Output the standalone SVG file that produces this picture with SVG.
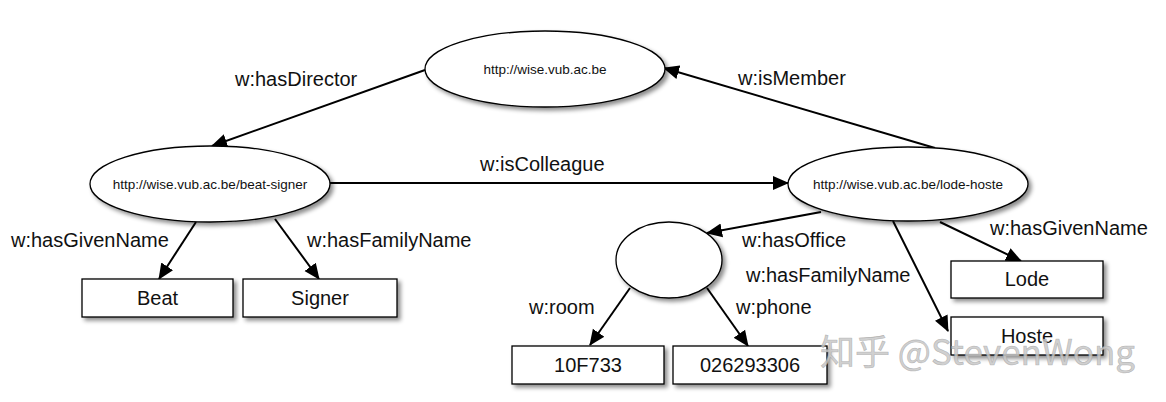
<svg xmlns="http://www.w3.org/2000/svg" width="1166" height="402" viewBox="0 0 1166 402">
<defs>
<filter id="sh" x="-10%" y="-20%" width="130%" height="150%">
<feDropShadow dx="3" dy="3" stdDeviation="2" flood-color="#000" flood-opacity="0.45"/>
</filter>
<marker id="ar" viewBox="0 0 16 16" refX="15" refY="8" markerWidth="16" markerHeight="16" markerUnits="userSpaceOnUse" orient="auto">
<path d="M0,1 L16,8 L0,15 Z" fill="#000"/>
</marker>
<style>
.n{fill:#fff;stroke:#000;stroke-width:1.3;filter:url(#sh)}
.t{font-family:"Liberation Sans",Arial,sans-serif;fill:#111}
.s{font-size:13.5px}
.b{font-size:20px}
.l{font-family:"Liberation Sans",Arial,sans-serif;font-size:20px;fill:#111}
.e{stroke:#000;stroke-width:2;fill:none;marker-end:url(#ar)}
</style>
</defs>
<rect width="1166" height="402" fill="#fff"/>
<g id="connectors">
<line class="e" x1="425" y1="70" x2="212" y2="146"/>
<line class="e" x1="935" y1="148" x2="664" y2="68"/>
<line class="e" x1="330" y1="183" x2="788" y2="183"/>
<line class="e" x1="196" y1="222" x2="159" y2="279"/>
<line class="e" x1="275" y1="219" x2="319" y2="279"/>
<line class="e" x1="821" y1="212" x2="707" y2="233"/>
<line class="e" x1="893" y1="221" x2="948" y2="331"/>
<line class="e" x1="940" y1="222" x2="1021" y2="261"/>
<line class="e" x1="630" y1="288" x2="590" y2="345"/>
<line class="e" x1="707" y1="288" x2="748" y2="346"/>
</g>
<g id="labels">
<text class="l" x="235" y="86">w:hasDirector</text>
<text class="l" x="738" y="85">w:isMember</text>
<text class="l" x="480" y="171">w:isColleague</text>
<text class="l" x="11" y="247">w:hasGivenName</text>
<text class="l" x="307" y="247">w:hasFamilyName</text>
<text class="l" x="742" y="247">w:hasOffice</text>
<text class="l" x="746" y="282">w:hasFamilyName</text>
<text class="l" x="990" y="235">w:hasGivenName</text>
<text class="l" x="529" y="314">w:room</text>
<text class="l" x="736" y="314">w:phone</text>
</g>
<g id="wise">
<ellipse class="n" cx="545" cy="69" rx="120" ry="38"/>
<text class="t s" x="545" y="74" text-anchor="middle">http://wise.vub.ac.be</text>
</g>
<g id="beat-signer">
<ellipse class="n" cx="210" cy="184" rx="120" ry="38"/>
<text class="t s" x="210" y="189" text-anchor="middle">http://wise.vub.ac.be/beat-signer</text>
</g>
<g id="lode-hoste">
<ellipse class="n" cx="908" cy="184" rx="120" ry="37"/>
<text class="t s" x="908" y="189" text-anchor="middle">http://wise.vub.ac.be/lode-hoste</text>
</g>
<g id="office">
<ellipse class="n" cx="669" cy="260" rx="53" ry="38"/>
</g>
<g id="beat">
<rect class="n" x="82" y="279" width="151" height="38"/>
<text class="t b" x="157.5" y="305" text-anchor="middle">Beat</text>
</g>
<g id="signer">
<rect class="n" x="243" y="279" width="154" height="38"/>
<text class="t b" x="320" y="305" text-anchor="middle">Signer</text>
</g>
<g id="room">
<rect class="n" x="512" y="346" width="152" height="38"/>
<text class="t b" x="588" y="372" text-anchor="middle">10F733</text>
</g>
<g id="phone">
<rect class="n" x="673" y="346" width="154" height="38"/>
<text class="t b" x="750" y="372" text-anchor="middle">026293306</text>
</g>
<g id="lode">
<rect class="n" x="951" y="261" width="152" height="37"/>
<text class="t b" x="1027" y="286" text-anchor="middle">Lode</text>
</g>
<g id="hoste">
<rect class="n" x="951" y="317" width="152" height="38"/>
<text class="t b" x="1027" y="343" text-anchor="middle">Hoste</text>
</g>
<g id="watermark">
<text x="820" y="365" font-family="Noto Sans CJK SC, sans-serif" font-size="35" fill="#c8c8c8" fill-opacity="0.85" stroke="#999" stroke-width="0.6" stroke-opacity="0.6">知乎 @StevenWong</text>
</g>
</svg>
